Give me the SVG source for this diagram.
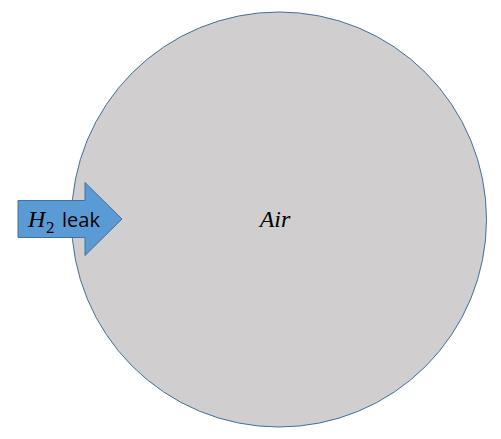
<svg xmlns="http://www.w3.org/2000/svg" width="501" height="439" viewBox="0 0 501 439">
<style>
.math{font-family:"Liberation Serif","DejaVu Serif",serif;font-style:italic;fill:#000}
.sub{font-family:"Liberation Serif","DejaVu Serif",serif;fill:#000}
.sans{font-family:"Open Sans","Liberation Sans",sans-serif;fill:#000}
</style>
<g id="air">
<circle cx="279" cy="219.5" r="207.5" fill="#D0CECE" stroke="#41719C" stroke-width="1"/>
<text x="275" y="227" class="math" font-size="24" text-anchor="middle">Air</text>
</g>
<g id="leak">
<path d="M18,200.5 H85 V182.5 L122,219 L85,255.5 V237.5 H18 Z" fill="#5B9BD5" stroke="#41719C" stroke-width="1"/>
<text x="28" y="227" class="math" font-size="24">H</text>
<text x="46" y="233" class="sub" font-size="17">2</text>
<text x="62" y="227" class="sans" font-size="20">leak</text>
</g>
<g id="connectors"></g>
</svg>
